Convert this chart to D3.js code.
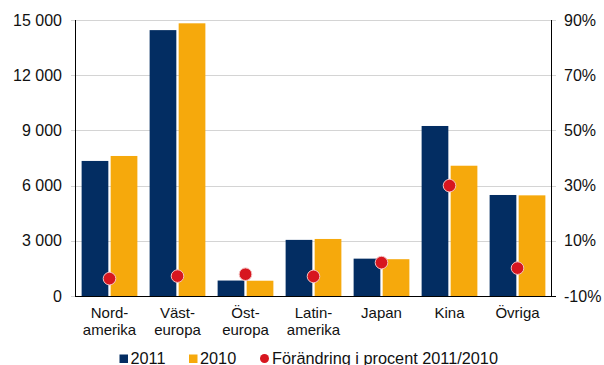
<!DOCTYPE html>
<html><head><meta charset="utf-8">
<script src="https://cdn.jsdelivr.net/npm/d3@7"></script>
<style>body{margin:0;background:#fff}svg{display:block}text{font-family:"Liberation Sans",Arial,sans-serif;fill:#111}</style>
</head><body><div id="chart"></div>
<script>
const categories = [["Nord-","amerika"],["Väst-","europa"],["Öst-","europa"],["Latin-","amerika"],["Japan"],["Kina"],["Övriga"]];
const values2011 = [7340, 14450, 840, 3050, 2030, 9240, 5490];
const values2010 = [7610, 14820, 830, 3100, 2000, 7080, 5470];
const change = [-3.7, -2.8, -2.1, -2.9, 2.1, 30.0, 0.1];
const leftTicks = [0, 3000, 6000, 9000, 12000, 15000];
const rightTicks = [-10, 10, 30, 50, 70, 90];
const seriesNames = ["2011", "2010"];
const legendChange = "Förändring i procent 2011/2010";

const W = 604, H = 365;
const colors = {"2011": "#032d62", "2010": "#f6a90c"};
const dotColor = "#d7161f";
const svg = d3.select("#chart").append("svg").attr("width", W).attr("height", H);

const x0 = d3.scaleBand().domain(d3.range(categories.length)).range([75.5, 551.5]).paddingInner(0.18).paddingOuter(0.09);
const x1 = d3.scaleBand().domain(seriesNames).range([0, x0.bandwidth()]).paddingInner(0.08);
const yL = d3.scaleLinear().domain([0, 15000]).range([296, 20]);
const yR = d3.scaleLinear().domain([-10, 90]).range([296, 20]);
const fmt = v => d3.format(",")(v).replace(/,/g, " ");

// gridlines
svg.append("g").selectAll("line").data(leftTicks.filter(d => d > 0)).join("line")
  .attr("x1", 71).attr("x2", 556).attr("y1", d => Math.round(yL(d)) + 0.5).attr("y2", d => Math.round(yL(d)) + 0.5)
  .attr("stroke", "#d4d4d4").attr("stroke-width", 1);
svg.append("line").attr("x1", 71).attr("x2", 76).attr("y1", 296.5).attr("y2", 296.5).attr("stroke", "#d4d4d4");

// bars
const data = categories.map((c, i) => ({i, v: {"2011": values2011[i], "2010": values2010[i]}}));
const g = svg.append("g").selectAll("g").data(data).join("g").attr("transform", d => `translate(${x0(d.i)},0)`);
g.selectAll("rect").data(d => seriesNames.map(s => ({s, v: d.v[s]}))).join("rect")
  .attr("x", d => x1(d.s)).attr("width", x1.bandwidth())
  .attr("y", d => yL(d.v)).attr("height", d => yL(0) - yL(d.v))
  .attr("fill", d => colors[d.s]);

// axes lines
svg.append("line").attr("x1", 75.5).attr("x2", 75.5).attr("y1", 20).attr("y2", 297).attr("stroke", "#000");
svg.append("line").attr("x1", 551.5).attr("x2", 551.5).attr("y1", 20).attr("y2", 297).attr("stroke", "#000");
svg.append("line").attr("x1", 75).attr("x2", 556).attr("y1", 296.5).attr("y2", 296.5).attr("stroke", "#000");

// tick labels
const leftAxis = d3.axisLeft(yL).tickValues(leftTicks).tickFormat(fmt).tickSize(0).tickPadding(0);
const la = svg.append("g").attr("transform", "translate(62,0)").call(leftAxis);
la.select(".domain").remove();
la.selectAll("text").attr("font-size", 16).attr("font-family", '"Liberation Sans",Arial,sans-serif').attr("fill", "#111");
const rightAxis = d3.axisRight(yR).tickValues(rightTicks).tickFormat(d => d + "%").tickSize(0).tickPadding(0);
const ra = svg.append("g").attr("transform", "translate(564,0)").call(rightAxis);
ra.select(".domain").remove();
ra.selectAll("text").attr("font-size", 16).attr("font-family", '"Liberation Sans",Arial,sans-serif').attr("fill", "#111");

// dots
svg.append("g").selectAll("circle").data(change).join("circle")
  .attr("cx", (d, i) => x0(i) + x0.bandwidth() / 2).attr("cy", d => yR(d)).attr("r", 6.3)
  .attr("fill", dotColor).attr("stroke", "#f3c0c0").attr("stroke-width", 1);

// category labels
const cl = svg.append("g").selectAll("text").data(categories).join("text")
  .attr("x", (d, i) => x0(i) + x0.bandwidth() / 2).attr("y", 318)
  .attr("text-anchor", "middle").attr("font-size", 15);
cl.selectAll("tspan").data(d => d).join("tspan")
  .attr("x", function () { return this.parentNode.getAttribute("x"); })
  .attr("dy", (d, i) => i === 0 ? 0 : 17).text(d => d);

// legend
const lg = svg.append("g");
[["2011", 119.5], ["2010", 189]].forEach(([s, x]) => {
  lg.append("rect").attr("x", x).attr("y", 354.5).attr("width", 8.5).attr("height", 8.5).attr("fill", colors[s]);
  lg.append("text").attr("x", x + 11).attr("y", 363.5).attr("font-size", 16.3).text(s);
});
lg.append("circle").attr("cx", 264.5).attr("cy", 358.5).attr("r", 4.5).attr("fill", dotColor);
lg.append("text").attr("x", 272).attr("y", 363.5).attr("font-size", 16.3).text(legendChange);
</script></body></html>
